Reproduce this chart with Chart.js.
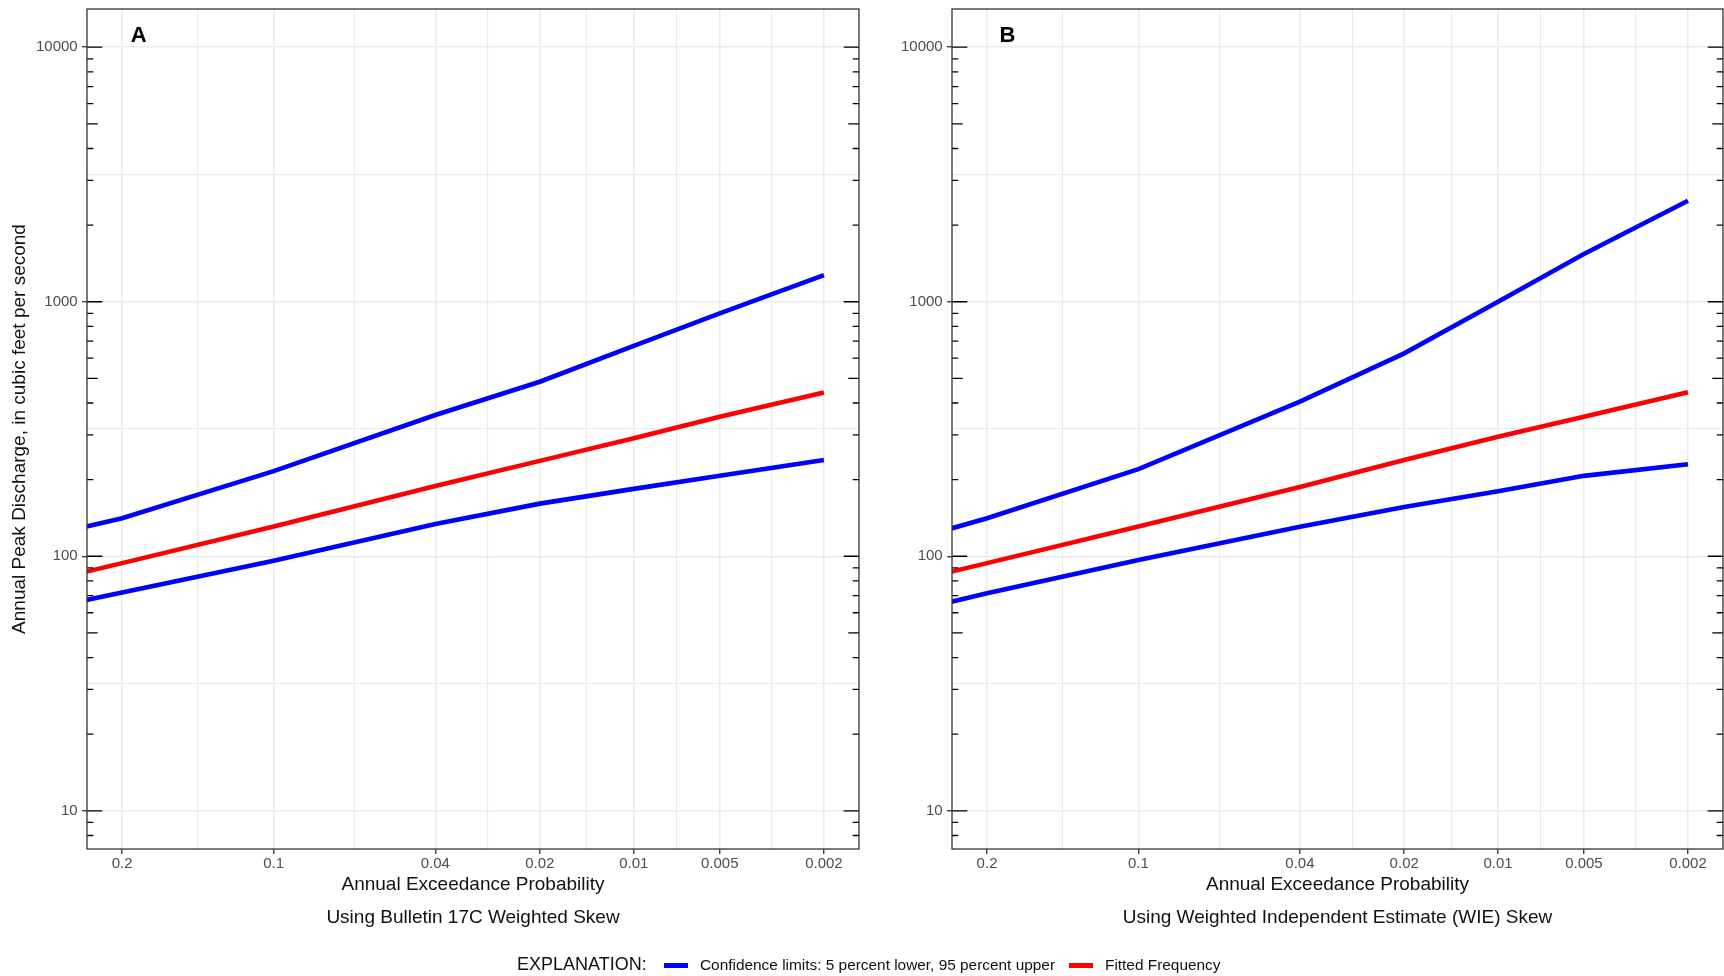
<!DOCTYPE html>
<html>
<head>
<meta charset="utf-8">
<script src="https://cdn.jsdelivr.net/npm/chart.js@4.4.0/dist/chart.umd.min.js"></script>
<style>
  body { margin: 0; background: #fff; width: 1724px; height: 976px; overflow: hidden; position: relative;
         font-family: "Liberation Sans", Arial, sans-serif; }
  canvas { position: absolute; top: 0; }
  #chA { left: 0; }
  #chB { left: 862px; }
  .lg { position: absolute; white-space: nowrap; color: #111; }
  .sw { position: absolute; width: 24px; height: 5px; top: 962.5px; }
</style>
</head>
<body>
<canvas id="chA" width="862" height="976"></canvas>
<canvas id="chB" width="862" height="976"></canvas>

<span class="lg" style="left:517px; top:954px; font-size:18px;">EXPLANATION:</span>
<span class="sw" style="left:664px; background:#0000FF;"></span>
<span class="lg" style="left:700px; top:956px; font-size:15.4px;">Confidence limits: 5 percent lower, 95 percent upper</span>
<span class="sw" style="left:1069px; background:#FF0000;"></span>
<span class="lg" style="left:1105px; top:956px; font-size:15.4px;">Fitted Frequency</span>

<script>
console.log("drawing frequency curves");

// annual exceedance probabilities of the plotted points
const probs = [0.25, 0.2, 0.1, 0.04, 0.02, 0.01, 0.005, 0.002];

// panel A - Bulletin 17C weighted skew
const upperA  = [125, 141, 216, 359, 485, 671, 900, 1273];
const fittedA = [83, 94, 131, 189, 237, 291, 353, 440];
const lowerA  = [64.6, 72, 96, 134, 161, 184, 207, 239];

// panel B - WIE skew
const upperB  = [121.6, 141, 220, 405, 627, 1000, 1539, 2492];
const fittedB = [83, 94, 131, 187, 239, 295, 353, 441];
const lowerB  = [63.2, 71.6, 96.7, 130.7, 156, 180, 207, 230];

const xTickProbs  = [0.2, 0.1, 0.04, 0.02, 0.01, 0.005, 0.002];
const xTickLabels = ['0.2', '0.1', '0.04', '0.02', '0.01', '0.005', '0.002'];
const yTickValues = [10, 100, 1000, 10000];
const yTickLabels = ['10', '100', '1000', '10000'];

const FONT = '"Liberation Sans", Arial, sans-serif';

// inverse normal cdf (Acklam)
function qnorm(p) {
  const a = [-3.969683028665376e+01, 2.209460984245205e+02, -2.759285104469687e+02, 1.383577518672690e+02, -3.066479806614716e+01, 2.506628277459239e+00];
  const b = [-5.447609879822406e+01, 1.615858368580409e+02, -1.556989798598866e+02, 6.680131188771972e+01, -1.328068155288572e+01];
  const c = [-7.784894002430293e-03, -3.223964580411365e-01, -2.400758277161838e+00, -2.549732539343734e+00, 4.374664141464968e+00, 2.938163982698783e+00];
  const d = [7.784695709041462e-03, 3.224671290700398e-01, 2.445134137142996e+00, 3.754408661907416e+00];
  const pl = 0.02425;
  let q, r;
  if (p < pl) {
    q = Math.sqrt(-2 * Math.log(p));
    return (((((c[0]*q+c[1])*q+c[2])*q+c[3])*q+c[4])*q+c[5]) / ((((d[0]*q+d[1])*q+d[2])*q+d[3])*q+1);
  }
  if (p > 1 - pl) {
    q = Math.sqrt(-2 * Math.log(1 - p));
    return -(((((c[0]*q+c[1])*q+c[2])*q+c[3])*q+c[4])*q+c[5]) / ((((d[0]*q+d[1])*q+d[2])*q+d[3])*q+1);
  }
  q = p - 0.5; r = q * q;
  return (((((a[0]*r+a[1])*r+a[2])*r+a[3])*r+a[4])*r+a[5])*q / (((((b[0]*r+b[1])*r+b[2])*r+b[3])*r+b[4])*r+1);
}
const zOf = p => qnorm(1 - p);

const zLo = zOf(xTickProbs[0]), zHi = zOf(xTickProbs[xTickProbs.length - 1]);
const zPad = 0.05 * (zHi - zLo);
const yLo = Math.log10(yTickValues[0]), yHi = Math.log10(yTickValues[yTickValues.length - 1]);
const yPad = 0.05 * (yHi - yLo);

function pts(vals) {
  return probs.map((p, i) => ({ x: zOf(p), y: vals[i] }));
}

const panelDecor = {
  id: 'panelDecor',
  afterDatasetsDraw(chart, args, opts) {
    const { ctx, chartArea: a, scales: { y } } = chart;
    ctx.save();
    ctx.strokeStyle = '#000';
    ctx.lineWidth = 1.3;
    for (let k = 0; k <= 4; k++) {
      for (let m = 1; m <= 9; m++) {
        const v = m * Math.pow(10, k);
        if (v < y.min || v > y.max) continue;
        const py = y.getPixelForValue(v);
        const len = m === 1 ? 15.3 : (m === 5 ? 10.7 : 6.3);
        ctx.beginPath();
        ctx.moveTo(a.left, py); ctx.lineTo(a.left + len, py);
        ctx.moveTo(a.right, py); ctx.lineTo(a.right - len, py);
        ctx.stroke();
      }
    }
    ctx.strokeStyle = '#333';
    ctx.strokeRect(a.left, a.top, a.right - a.left, a.bottom - a.top);
    ctx.fillStyle = '#000';
    ctx.font = 'bold 22px ' + FONT;
    ctx.fillText(opts.letter, a.left + opts.dx, a.top + 32.7);
    ctx.restore();
  }
};

function makeChart(id, upper, fitted, lower, letter, dx, yWidth, padRight, showYTitle, subtitle) {
  const ds = (vals, col) => ({
    data: pts(vals), borderColor: col, backgroundColor: col, borderWidth: 4.6,
    pointRadius: 0, tension: 0, fill: false, clip: 0
  });
  return new Chart(document.getElementById(id), {
    type: 'line',
    data: { datasets: [ds(lower, '#0000FF'), ds(upper, '#0000FF'), ds(fitted, '#FF0000')] },
    options: {
      responsive: false,
      animation: false,
      devicePixelRatio: 1,
      layout: { padding: { left: 0, right: padRight, top: 9, bottom: 0 } },
      plugins: {
        legend: { display: false },
        tooltip: { enabled: false },
        panelDecor: { letter: letter, dx: dx }
      },
      scales: {
        x: {
          type: 'linear',
          min: zLo - zPad,
          max: zHi + zPad,
          afterBuildTicks: s => {
            const t = [];
            xTickProbs.forEach((p, i) => {
              t.push({ value: zOf(p) });
              if (i < xTickProbs.length - 1) t.push({ value: (zOf(p) + zOf(xTickProbs[i + 1])) / 2 });
            });
            s.ticks = t;
          },
          afterFit: s => { s.height = 127; s.paddingLeft = 0; s.paddingRight = 0; },
          ticks: {
            autoSkip: false, maxRotation: 0, padding: 1,
            color: '#4D4D4D', font: { family: FONT, size: 15 },
            callback: (v, i) => i % 2 === 0 ? xTickLabels[i / 2] : ''
          },
          grid: {
            color: '#EBEBEB',
            lineWidth: c => c.index % 2 === 0 ? 1.5 : 1.1,
            tickColor: c => c.index % 2 === 0 ? '#333' : 'rgba(0,0,0,0)',
            tickLength: 5, tickWidth: 1.3
          },
          border: { display: false },
          title: {
            display: true,
            text: ['Annual Exceedance Probability', subtitle],
            color: '#111',
            font: { family: FONT, size: 19, lineHeight: '33px' },
            padding: { top: 0, bottom: 41.5 }
          }
        },
        y: {
          type: 'logarithmic',
          min: Math.pow(10, yLo - yPad),
          max: Math.pow(10, yHi + yPad),
          afterBuildTicks: s => {
            const t = [];
            yTickValues.forEach((v, i) => {
              t.push({ value: v });
              if (i < yTickValues.length - 1) t.push({ value: Math.sqrt(v * yTickValues[i + 1]) });
            });
            s.ticks = t;
          },
          afterFit: s => { s.width = yWidth; s.paddingTop = 0; s.paddingBottom = 0; },
          ticks: {
            autoSkip: false, padding: 4.3,
            color: '#4D4D4D', font: { family: FONT, size: 15 },
            callback: (v, i) => i % 2 === 0 ? yTickLabels[i / 2] : ''
          },
          grid: {
            color: '#EBEBEB',
            lineWidth: c => c.index % 2 === 0 ? 1.5 : 1.1,
            tickColor: c => c.index % 2 === 0 ? '#333' : 'rgba(0,0,0,0)',
            tickLength: 5, tickWidth: 1.3
          },
          border: { display: false },
          title: {
            display: showYTitle,
            text: 'Annual Peak Discharge, in cubic feet per second',
            color: '#111',
            font: { family: FONT, size: 19 },
            padding: { top: 8.6, bottom: 0 }
          }
        }
      }
    },
    plugins: [panelDecor]
  });
}

makeChart('chA', upperA, fittedA, lowerA, 'A', 43.7, 87, 3, true, 'Using Bulletin 17C Weighted Skew');
makeChart('chB', upperB, fittedB, lowerB, 'B', 47.5, 90, 1, false, 'Using Weighted Independent Estimate (WIE) Skew');
</script>
</body>
</html>
